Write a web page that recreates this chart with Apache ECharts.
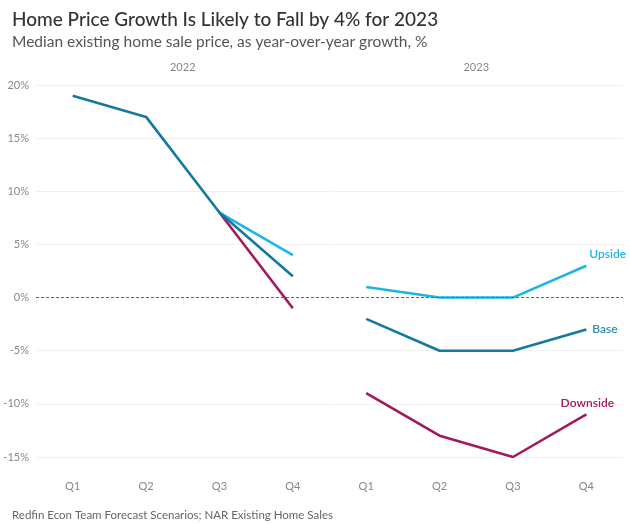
<!DOCTYPE html>
<html>
<head>
<meta charset="utf-8">
<script src="https://cdn.jsdelivr.net/npm/echarts@6/dist/echarts.min.js"></script>
<style>
html,body{margin:0;padding:0;background:#fff;}
#chart{width:630px;height:524px;}
</style>
</head>
<body>
<div id="chart"></div>
<script>
const quarters = ['Q1','Q2','Q3','Q4','Q1','Q2','Q3','Q4'];
const years = ['2022','2023'];
const yTicks = [-15,-10,-5,0,5,10,15,20];
// 2022 history + branch, 2023 forecast scenarios
const base2022     = [19, 17, 8, 2, null, null, null, null];
const upside2022   = [null, null, 8, 4, null, null, null, null];
const downside2022 = [null, null, 8, -1, null, null, null, null];
const base2023     = [null, null, null, null, -2, -5, -5, -3];
const upside2023   = [null, null, null, null, 1, 0, 0, 3];
const downside2023 = [null, null, null, null, -9, -13, -15, -11];

const C_BASE = '#1479a0', C_UP = '#1db5e6', C_DOWN = '#a3195b';
const FONT = 'Lato';

function line(name, data, color, extra) {
  return Object.assign({
    name: name, type: 'line', data: data, xAxisIndex: 0, yAxisIndex: 0,
    symbol: 'none', connectNulls: false,
    lineStyle: { color: color, width: 2.6 }, itemStyle: { color: color },
    emphasis: { disabled: true }
  }, extra || {});
}

const chart = echarts.init(document.getElementById('chart'), null, { renderer: 'canvas' });
chart.setOption({
  backgroundColor: '#fff',
  animation: false,
  textStyle: { fontFamily: FONT },
  title: [
    { text: 'Home Price Growth Is Likely to Fall by 4% for 2023', left: 7, top: 5,
      textStyle: { fontFamily: FONT, fontSize: 19, fontWeight: 500, color: '#333' } },
    { text: 'Median existing home sale price, as year-over-year growth, %', left: 7, top: 29,
      textStyle: { fontFamily: FONT, fontSize: 15.5, fontWeight: 'normal', color: '#555' } },
    { text: 'Redfin Econ Team Forecast Scenarios; NAR Existing Home Sales', left: 7, top: 504,
      textStyle: { fontFamily: FONT, fontSize: 11.5, fontWeight: 'normal', color: '#666' } }
  ],
  grid: { left: 36, right: 7, top: 85, bottom: 67, containLabel: false },
  xAxis: [
    { type: 'category', data: quarters, position: 'bottom', boundaryGap: true,
      axisLine: { show: false },
      axisTick: { show: true, length: 8, lineStyle: { color: '#eeeeee' }, inside: false },
      axisLabel: { color: '#888', fontSize: 11, margin: 24, fontFamily: FONT },
      splitLine: { show: false } },
    { type: 'category', data: years, position: 'top', boundaryGap: true,
      axisLine: { show: false }, axisTick: { show: false },
      axisLabel: { color: '#888', fontSize: 11, margin: 12, fontFamily: FONT },
      splitLine: { show: false } }
  ],
  yAxis: {
    type: 'value', min: -15, max: 20, interval: 5,
    axisLine: { show: false }, axisTick: { show: false },
    axisLabel: { color: '#888', fontSize: 11, margin: 7, fontFamily: FONT,
      formatter: v => yTicks.includes(v) ? v + '%' : '' },
    splitLine: { show: true, lineStyle: { color: '#f0f0f0', width: 1 } }
  },
  series: [
    line('Downside', downside2022, C_DOWN, {
      markLine: { silent: true, symbol: 'none', label: { show: false },
        lineStyle: { color: '#666', type: [3, 2], width: 1.2 },
        data: [{ yAxis: 0 }] }
    }),
    line('Upside', upside2022, C_UP),
    line('Base', base2022, C_BASE),
    line('Downside', downside2023, C_DOWN, {
      endLabel: { show: true, formatter: 'Downside', color: C_DOWN, fontSize: 12, fontWeight: 600,
        fontFamily: FONT, align: 'center', verticalAlign: 'bottom', offset: [-7, -5] }
    }),
    line('Upside', upside2023, C_UP, {
      endLabel: { show: true, formatter: 'Upside', color: C_UP, fontSize: 12, fontWeight: 600,
        fontFamily: FONT, align: 'left', verticalAlign: 'bottom', offset: [-5, -6] }
    }),
    line('Base', base2023, C_BASE, {
      endLabel: { show: true, formatter: 'Base', color: '#2a8db0', fontSize: 12, fontWeight: 600,
        fontFamily: FONT, align: 'left', verticalAlign: 'middle', offset: [-2, 0] }
    })
  ]
});
</script>
</body>
</html>
